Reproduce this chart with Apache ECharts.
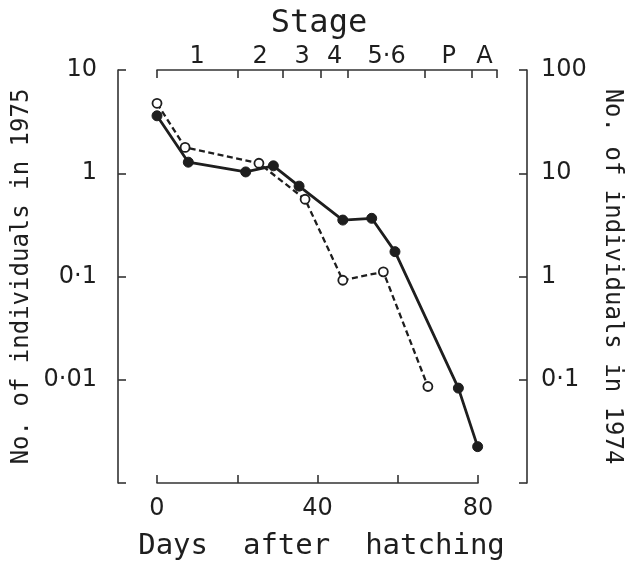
<!DOCTYPE html>
<html>
<head>
<meta charset="utf-8">
<script src="https://cdn.jsdelivr.net/npm/echarts@6/dist/echarts.min.js"></script>
<style>html,body{margin:0;padding:0;background:#fff}#c{width:633px;height:561px}</style>
</head>
<body>
<div id="c"></div>
<script>
// 1975 survey (solid line, filled circles, left axis)
const days1975 = [0, 7.8, 22.1, 29.0, 35.4, 46.3, 53.5, 59.3, 75.1, 79.9];
const counts1975 = [3.6, 1.28, 1.03, 1.18, 0.75, 0.352, 0.366, 0.174, 0.0083, 0.00225];
// 1974 survey (dashed line, open circles, right axis)
const days1974 = [0, 7.0, 25.4, 36.9, 46.3, 56.4, 67.5];
const counts1974 = [47.6, 17.8, 12.5, 5.6, 0.92, 1.11, 0.086];
// Stage boundaries (days) and stage names
const stageTicks = [0, 20, 31.4, 40.9, 47.6, 66.8, 78.5, 84.7];
const stageNames = ['1', '2', '3', '4', '5·6', 'P', 'A'];
// Tick labels
const dayLabels = {0: '0', 40: '40', 80: '80'};
const leftLabels = {'1': '10', '0': '1', '-1': '0·1', '-2': '0·01', '-3': ''};
const rightLabels = {'2': '100', '1': '10', '0': '1', '-1': '0·1', '-2': ''};

const stageMids = stageNames.map((n, i) => (stageTicks[i] + stageTicks[i + 1]) / 2);

const FONT = 'DejaVu Sans';
const MONO = 'DejaVu Sans Mono';
const INK = '#1e1e1e';
const AX = '#333';

const G = {top: 70, bottom: 78, containLabel: false, outerBoundsMode: 'none'};
const LINE = {show: true, onZero: false, lineStyle: {color: AX, width: 1.6}};
const TICK = {color: AX, width: 1.6};

const chart = echarts.init(document.getElementById('c'), null, {renderer: 'canvas'});
chart.setOption({
  backgroundColor: '#fff',
  animation: false,
  grid: [
    Object.assign({left: 118, right: 106}, G),
    Object.assign({left: 157, right: 155}, G),
    Object.assign({left: 157, right: 136}, G)
  ],
  xAxis: [
    {gridIndex: 0, type: 'value', min: -9.72, max: 92.2, show: false},
    {
      gridIndex: 1, type: 'value', position: 'bottom', min: 0, max: 80, interval: 20,
      splitLine: {show: false},
      axisLine: LINE,
      axisTick: {show: true, inside: true, length: 8, lineStyle: TICK},
      axisLabel: {
        margin: 14, color: INK, fontFamily: FONT, fontSize: 24,
        formatter: v => dayLabels[v] !== undefined ? dayLabels[v] : ''
      },
      name: 'Days  after  hatching', nameLocation: 'middle', nameGap: 49, nameMoveOverlap: false,
      nameTextStyle: {color: INK, fontFamily: MONO, fontSize: 29, padding: [0, 0, 0, 8]}
    },
    {
      gridIndex: 2, type: 'value', position: 'top', min: 0, max: 84.7,
      splitLine: {show: false},
      axisLine: LINE,
      axisTick: {show: true, inside: true, length: 8, customValues: stageTicks, lineStyle: TICK},
      axisLabel: {
        margin: 1, color: INK, fontFamily: FONT, fontSize: 24, customValues: stageMids,
        formatter: v => {
          let best = 0;
          stageMids.forEach((m, i) => { if (Math.abs(m - v) < Math.abs(stageMids[best] - v)) best = i; });
          return stageNames[best];
        }
      },
      name: 'Stage', nameLocation: 'middle', nameGap: 30, nameMoveOverlap: false,
      nameTextStyle: {color: INK, fontFamily: MONO, fontSize: 32, padding: [0, 16, 0, 0]}
    }
  ],
  yAxis: [
    {
      gridIndex: 0, type: 'log', logBase: 10, min: 0.001, max: 10, position: 'left',
      splitLine: {show: false}, minorTick: {show: false},
      axisLine: LINE,
      axisTick: {show: true, inside: true, length: 8, lineStyle: TICK},
      axisLabel: {
        margin: 21, color: INK, fontFamily: FONT, fontSize: 24,
        formatter: v => leftLabels[String(Math.round(Math.log10(v)))] || ''
      },
      name: 'No. of individuals in 1975', nameLocation: 'middle', nameGap: 84, nameRotate: 90,
      nameMoveOverlap: false,
      nameTextStyle: {color: INK, fontFamily: MONO, fontSize: 24}
    },
    {
      gridIndex: 0, type: 'log', logBase: 10, min: 0.01, max: 100, position: 'right',
      splitLine: {show: false}, minorTick: {show: false},
      axisLine: LINE,
      axisTick: {show: true, inside: true, length: 8, lineStyle: TICK},
      axisLabel: {
        margin: 14, color: INK, fontFamily: FONT, fontSize: 24,
        formatter: v => rightLabels[String(Math.round(Math.log10(v)))] || ''
      },
      name: 'No. of individuals in 1974', nameLocation: 'middle', nameGap: 73, nameRotate: -90,
      nameMoveOverlap: false,
      nameTextStyle: {color: INK, fontFamily: MONO, fontSize: 24}
    },
    {gridIndex: 1, type: 'value', show: false},
    {gridIndex: 2, type: 'value', show: false}
  ],
  series: [
    {
      name: '1974', type: 'line', xAxisIndex: 0, yAxisIndex: 1,
      data: days1974.map((d, i) => [d, counts1974[i]]),
      symbol: 'circle', symbolSize: 9, showSymbol: true,
      lineStyle: {color: INK, width: 2.3, type: [6, 3.5]},
      itemStyle: {color: '#fff', borderColor: INK, borderWidth: 1.8},
      z: 3
    },
    {
      name: '1975', type: 'line', xAxisIndex: 0, yAxisIndex: 0,
      data: days1975.map((d, i) => [d, counts1975[i]]),
      symbol: 'circle', symbolSize: 10, showSymbol: true,
      lineStyle: {color: INK, width: 2.8},
      itemStyle: {color: INK, borderColor: INK, borderWidth: 1},
      z: 4
    }
  ]
});
</script>
</body>
</html>
